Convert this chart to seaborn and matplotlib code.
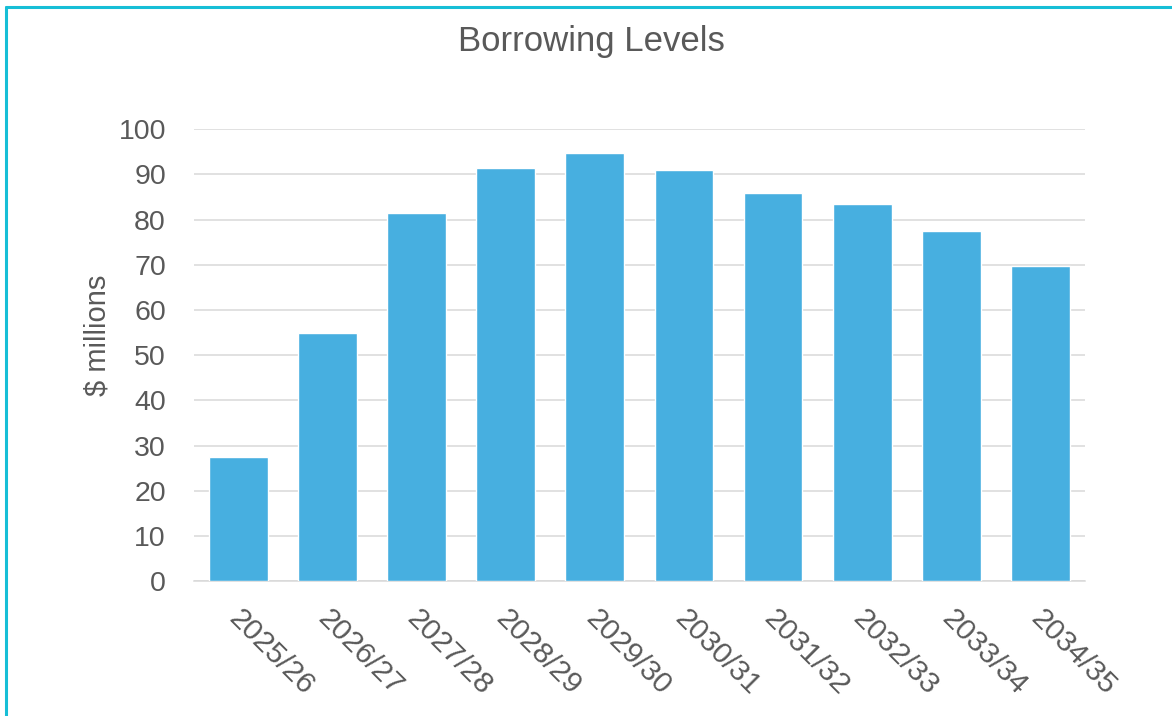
import matplotlib
matplotlib.use("Agg")
import matplotlib.pyplot as plt
import matplotlib.transforms as mtransforms
from matplotlib.lines import Line2D
import seaborn as sns
import pandas as pd

years = ["2025/26", "2026/27", "2027/28", "2028/29", "2029/30",
         "2030/31", "2031/32", "2032/33", "2033/34", "2034/35"]
borrowing = [27.5, 54.9, 81.4, 91.4, 94.8, 91.0, 85.8, 83.5, 77.5, 69.8]
yticks = [0, 10, 20, 30, 40, 50, 60, 70, 80, 90, 100]

sns.set_theme(style="white")
plt.rcParams['font.family'] = ['Liberation Sans', 'DejaVu Sans']
text_color = "#595959"

df = pd.DataFrame({"year": years, "value": borrowing})

fig = plt.figure(figsize=(11.72, 7.16), dpi=100)
ax = fig.add_axes([193.7/1172, 1-581.3/716, (1085-193.7)/1172, (581.3-129.3)/716])

sns.barplot(data=df, x="year", y="value", color="#47AFE0", saturation=1,
            width=0.66, ax=ax, zorder=3)

ax.set_ylim(0, 100)
ax.set_xlim(-0.5, len(years) - 0.5)
ax.set_yticks(yticks)
ax.set_yticklabels([str(t) for t in yticks], fontsize=20.5, color=text_color)
ax.yaxis.grid(True, color="#D9D9D9", linewidth=1.1, zorder=0)
ax.set_axisbelow(True)
for s in ["top", "right", "left"]:
    ax.spines[s].set_visible(False)
ax.spines["bottom"].set_color("#D9D9D9")
ax.spines["bottom"].set_linewidth(1.1)
ax.tick_params(axis="both", length=0)
ax.tick_params(axis="y", pad=20)
ax.tick_params(axis="x", pad=24)

ax.set_xticks(range(len(years)))
ax.set_xticklabels(years, rotation=-45, ha="left", va="center",
                   rotation_mode="anchor", fontsize=21.5, color=text_color)
offset = mtransforms.ScaledTranslation(-5/100, 0, fig.dpi_scale_trans)
for lbl in ax.get_xticklabels():
    lbl.set_transform(lbl.get_transform() + offset)

ax.set_xlabel("")
ax.set_ylabel("$ millions", fontsize=21, color=text_color)
ax.yaxis.set_label_coords(-0.092, 0.545)

fig.text(591/1172, 1-42/716, "Borrowing Levels", fontsize=25, color=text_color,
         ha="center", va="center")

# partial cyan frame (left and top edges)
fig.add_artist(Line2D([6/1172, 6/1172], [0, 1-6.5/716], transform=fig.transFigure,
                      color="#17BED6", linewidth=2.2))
fig.add_artist(Line2D([6/1172, 1], [1-6.5/716, 1-6.5/716], transform=fig.transFigure,
                      color="#17BED6", linewidth=2.2))

fig.savefig("out.png", dpi=100, facecolor="white")
